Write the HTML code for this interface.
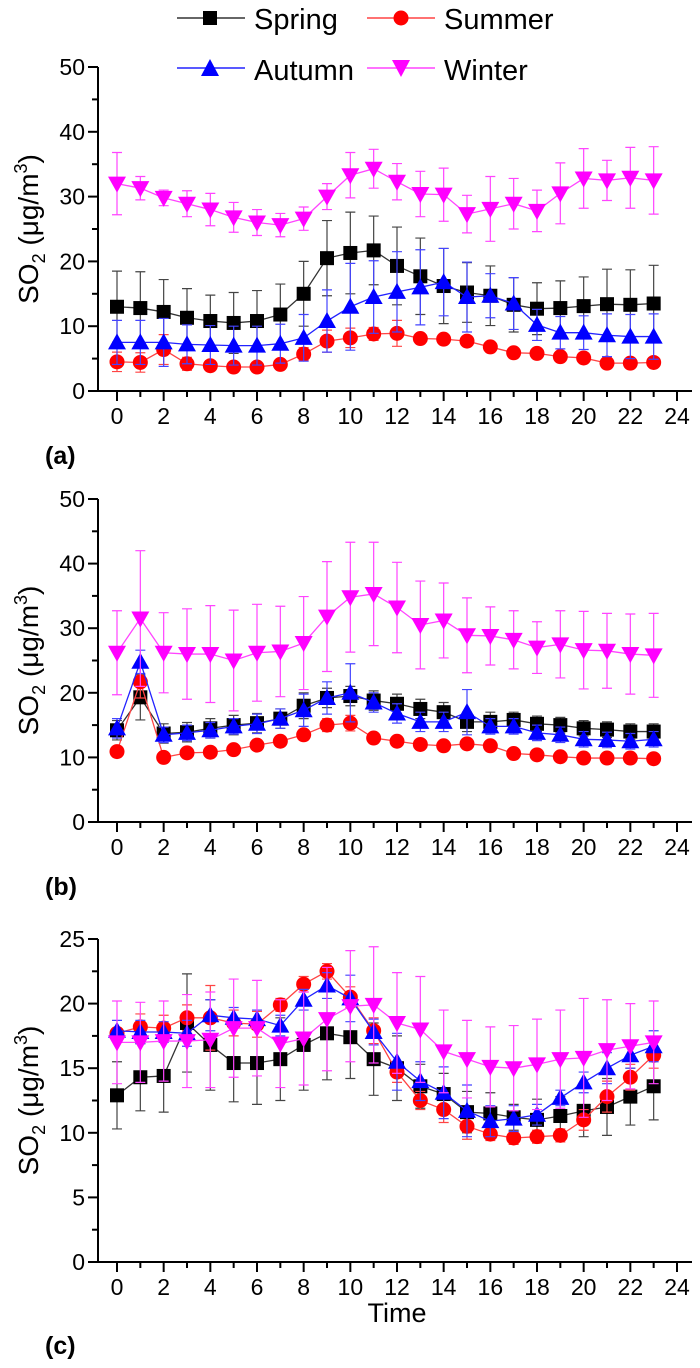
<!DOCTYPE html>
<html><head><meta charset="utf-8"><style>
body{margin:0;background:#fff;}
svg{display:block;font-family:"Liberation Sans",Arial,sans-serif;}
</style></head><body>
<svg id="chart" width="700" height="1368" viewBox="0 0 700 1368">
<g>
 <g><line x1="177" y1="18" x2="245" y2="18" stroke="#333" stroke-width="1.5"/><rect x="203" y="11" width="14" height="14" fill="#000"/><text x="254" y="29" font-size="29">Spring</text></g>
 <g><line x1="367" y1="18" x2="435" y2="18" stroke="#f44" stroke-width="1.5"/><circle cx="401" cy="18" r="7.5" fill="#f00"/><text x="444" y="29" font-size="29">Summer</text></g>
 <g><line x1="177" y1="68" x2="245" y2="68" stroke="#22f" stroke-width="1.5"/><path d="M210,59 L219,76 L201,76Z" fill="#00f"/><text x="254" y="80" font-size="29">Autumn</text></g>
 <g><line x1="367" y1="68" x2="435" y2="68" stroke="#f4f" stroke-width="1.5"/><path d="M392,60 L410,60 L401,77Z" fill="#f0f"/><text x="444" y="80" font-size="29">Winter</text></g>
</g>
</svg>
<script>
const hours=[0,1,2,3,4,5,6,7,8,9,10,11,12,13,14,15,16,17,18,19,20,21,22,23];
const xTicks=[0,2,4,6,8,10,12,14,16,18,20,22,24];
const yTicksAB=[0,10,20,30,40,50];
const yTicksC=[0,5,10,15,20,25];
const aSpring=[13,12.8,12.2,11.3,10.8,10.5,10.8,11.8,15,20.5,21.3,21.7,19.3,17.7,16.2,15.2,14.7,13.3,12.7,12.8,13.1,13.4,13.3,13.5];
const aSpringErr=[5.5,5.6,5,4.5,4,4.7,4.7,4.7,5,5.8,6.3,5.3,6,5.9,5.8,4.6,4.6,4.2,4,4.2,4.5,5.4,5.4,5.9];
const aSummer=[4.5,4.4,6.4,4.2,3.9,3.7,3.7,4.1,5.7,7.7,8.2,8.8,8.9,8.1,8,7.7,6.8,5.9,5.8,5.3,5.1,4.3,4.3,4.4];
const aSummerErr=[1.5,1.5,2.3,1,0.8,0.5,0.5,0.5,1,1.7,1.5,1,2,0.5,0.5,0.5,0.5,0.5,0.5,0.5,0.5,0.5,0.5,0.5];
const aAutumn=[7.5,7.5,7.5,7.2,7.1,7,7,7.3,8.2,10.8,13,14.5,15.3,16,16.8,14.5,14.7,13.5,10.2,9,9,8.6,8.4,8.4];
const aAutumnErr=[3.4,3.4,3.7,3,3,3,3,3,3.6,4.8,6.7,5.6,6.2,5.8,5.2,5.4,3.4,4,2.4,2.5,2.6,3.3,3.4,3.5];
const aWinter=[32,31.3,29.8,28.9,28,26.8,26,25.6,26.6,30,33.3,34.3,32.3,30.4,30.3,27.3,28.1,28.9,27.8,30.5,32.8,32.5,32.9,32.5];
const aWinterErr=[4.8,1.8,1.2,2,2.5,2.3,2,1.8,1.8,2,3.5,3,2.8,3.5,4.1,2.9,5,3.9,3.2,4.7,4.6,3.1,4.7,5.2];
const bSpring=[14.2,19.3,13.7,13.9,14.5,15,15.3,16,18,19.2,19.5,18.8,18.3,17.5,17,15.5,15.5,15.8,15.2,15,14.5,14.3,14,14];
const bSpringErr=[1.5,3.5,1.5,1.5,1.5,1.5,1.5,1.5,2,1.5,1.5,1.5,1.5,1.5,1.5,1.5,1.5,1.2,1.2,1.2,1.2,1.2,1.2,1.2];
const bSummer=[10.9,21.7,10,10.7,10.8,11.2,11.9,12.5,13.5,15,15.3,13,12.5,12,11.8,12.1,11.8,10.6,10.4,10.1,9.9,9.9,9.9,9.8];
const bSummerErr=[0.8,2.5,0.6,0.6,0.6,0.6,0.8,0.8,0.8,1,1.2,0.6,0.6,0.6,0.6,0.6,0.6,0.5,0.5,0.5,0.5,0.5,0.5,0.5];
const bAutumn=[14.5,24.8,13.5,13.8,14.2,14.8,15.2,16,17.3,19.2,20,18.5,16.8,15.5,15.5,17,14.8,14.8,13.8,13.5,12.8,12.7,12.5,12.8];
const bAutumnErr=[1.5,1.8,1.2,1.2,1.2,1.2,1.5,1.5,2.5,2.5,4.5,1.5,1.5,1.5,1.5,3.5,1.2,1.2,1.2,1.2,1.2,1.2,1.2,1.2];
const bWinter=[26.2,31.5,26.2,26,26,25,26.2,26.4,27.7,31.8,34.8,35.3,33.2,30.5,31.2,28.9,28.8,28.2,27,27.5,26.6,26.5,26,25.8];
const bWinterErr=[6.5,10.5,6.2,7,7.5,7.8,7.5,7,7.2,8.5,8.5,8,7,6.8,5.8,5.8,4.5,4.5,4,5.2,6,5.8,6.2,6.5];
const cSpring=[12.9,14.3,14.4,18.5,16.8,15.4,15.4,15.7,16.8,17.7,17.4,15.7,15,13.6,13,11.6,11.5,11.2,11,11.3,11.7,12,12.8,13.6];
const cSpringErr=[2.6,2.6,2.8,3.8,3.5,3,3.2,3.2,3.5,3.6,3.2,2.8,2.5,1.7,1.6,1.6,1.6,1,1.6,1.5,2,2.2,2.2,2.6];
const cSummer=[17.7,18.2,18.1,18.9,18.9,18.5,18.4,19.9,21.5,22.5,20.5,17.9,14.7,12.5,11.8,10.5,9.9,9.6,9.7,9.8,11,12.8,14.3,16];
const cSummerErr=[0.4,1,1,1,2.5,1,1,0.5,0.6,0.6,0.8,1,0.8,0.7,1,1,0.5,0.5,0.5,0.5,0.8,1.2,1,1];
const cAutumn=[17.9,17.8,17.8,17.7,19.1,18.9,18.8,18.3,20.3,21.4,20.4,17.8,15.5,14,13.1,11.7,10.9,11.1,11.4,12.7,13.9,15,16,16.7];
const cAutumnErr=[0.8,0.9,0.8,1,1.2,0.8,0.7,0.8,0.8,1,1.8,1,2.2,1.5,2,2,1.2,1,0.8,0.6,0.8,1.2,1,1.2];
const cWinter=[17,17,17.1,17.1,17.2,18.1,18.1,16.9,17.3,18.8,19.8,19.9,18.5,18,16.3,15.7,15.1,15,15.3,15.7,15.8,16.4,16.7,17];
const cWinterErr=[3.2,3.1,3.1,3.6,3.7,3.8,3.7,3.4,3.6,4,4.3,4.5,3.9,4.1,3.2,3,3.1,3.3,3.5,3.8,4.6,3.9,3.3,3.2];

const NS='http://www.w3.org/2000/svg';
const svg=document.getElementById('chart');
function mk(tag,attrs,parent){const e=document.createElementNS(NS,tag);for(const k in attrs)e.setAttribute(k,attrs[k]);parent.appendChild(e);return e;}
const panels=[
 {id:'a',top:67,bot:391,ymax:50,yt:yTicksAB,minor:5,series:[[aSpring,aSpringErr],[aSummer,aSummerErr],[aAutumn,aAutumnErr],[aWinter,aWinterErr]]},
 {id:'b',top:499,bot:822,ymax:50,yt:yTicksAB,minor:5,series:[[bSpring,bSpringErr],[bSummer,bSummerErr],[bAutumn,bAutumnErr],[bWinter,bWinterErr]]},
 {id:'c',top:939,bot:1262,ymax:25,yt:yTicksC,minor:2.5,series:[[cSpring,cSpringErr],[cSummer,cSummerErr],[cAutumn,cAutumnErr],[cWinter,cWinterErr]]}
];
const styles=[{name:'spring',line:'#333',mark:'#000',err:'#444',shape:'sq'},{name:'summer',line:'#f44',mark:'#f00',err:'#f44',shape:'ci'},{name:'autumn',line:'#22f',mark:'#00f',err:'#44f',shape:'up'},{name:'winter',line:'#f4f',mark:'#f0f',err:'#f4f',shape:'dn'}];
const X0=117,X24=677,AXL=98;
const xs=h=>X0+(X24-X0)*h/24;
panels.forEach(p=>{
 const ys=v=>p.bot-(p.bot-p.top)*v/p.ymax;
 const g=mk('g',{},svg);
 
 
 const ax=mk('g',{stroke:'#000','stroke-width':2},g);
 
 
 mk('line',{x1:AXL,y1:p.top,x2:AXL,y2:p.bot+1},ax);
 mk('line',{x1:88,y1:p.bot,x2:692,y2:p.bot},ax);
 for(let v=0;v<=p.ymax+0.001;v+=p.minor){const y=ys(v);const maj=p.yt.some(t=>Math.abs(t-v)<1e-6);mk('line',{x1:maj?88:92,y1:y,x2:AXL,y2:y},ax);}
 for(let h=0;h<=24;h++){mk('line',{x1:xs(h),y1:p.bot,x2:xs(h),y2:p.bot+(h%2?6:10)},ax);}
 p.yt.forEach(t=>{const tx=mk('text',{x:85,y:ys(t)+8,'font-size':23,'text-anchor':'end'},g);tx.textContent=t;
  
  });
 xTicks.forEach(t=>{const tx=mk('text',{x:xs(t),y:p.bot+33,'font-size':23,'text-anchor':'middle'},g);tx.textContent=t;
  
  });
 const yl=mk('text',{transform:`translate(38,${(p.top+p.bot)/2}) rotate(-90)`,'font-size':28,'text-anchor':'middle'},g);
 yl.innerHTML='SO<tspan font-size="18" dy="7">2</tspan><tspan dy="-7"> (μg/m</tspan><tspan font-size="18" dy="-11">3</tspan><tspan dy="11">)</tspan>';
 
 
 const pl=mk('text',{x:45,y:p.bot+(p.id==='c'?92:73),'font-size':25,'font-weight':'bold'},g);pl.textContent='('+p.id+')';
 
 
 p.series.forEach((s,i)=>{
  const st=styles[i];const vals=s[0],errs=s[1];
  const sg=mk('g',{},g);
  
  
  hours.forEach((h,k)=>{const x=xs(h),y1=ys(vals[k]+errs[k]),y2=ys(vals[k]-errs[k]);
   mk('path',{d:`M${x},${y1}V${y2}M${x-5},${y1}H${x+5}M${x-5},${y2}H${x+5}`,stroke:st.err,'stroke-width':1.2,fill:'none'},sg);});
  mk('polyline',{points:hours.map((h,k)=>xs(h)+','+ys(vals[k])).join(' '),fill:'none',stroke:st.line,'stroke-width':1.3},sg);
  hours.forEach((h,k)=>{const x=xs(h),y=ys(vals[k]);let m;
   if(st.shape==='sq')m=mk('rect',{x:x-7,y:y-7,width:14,height:14,fill:st.mark},sg);
   else if(st.shape==='ci')m=mk('circle',{cx:x,cy:y,r:7.5,fill:st.mark},sg);
   else if(st.shape==='up')m=mk('path',{d:`M${x},${y-9}L${x+9},${y+7}L${x-9},${y+7}Z`,fill:st.mark},sg);
   else m=mk('path',{d:`M${x-9},${y-7}L${x+9},${y-7}L${x},${y+9}Z`,fill:st.mark},sg);
   
   });
 });
});
const tl=mk('text',{x:397,y:1322,'font-size':27,'text-anchor':'middle'},svg);tl.textContent='Time';


</script>
</body></html>
